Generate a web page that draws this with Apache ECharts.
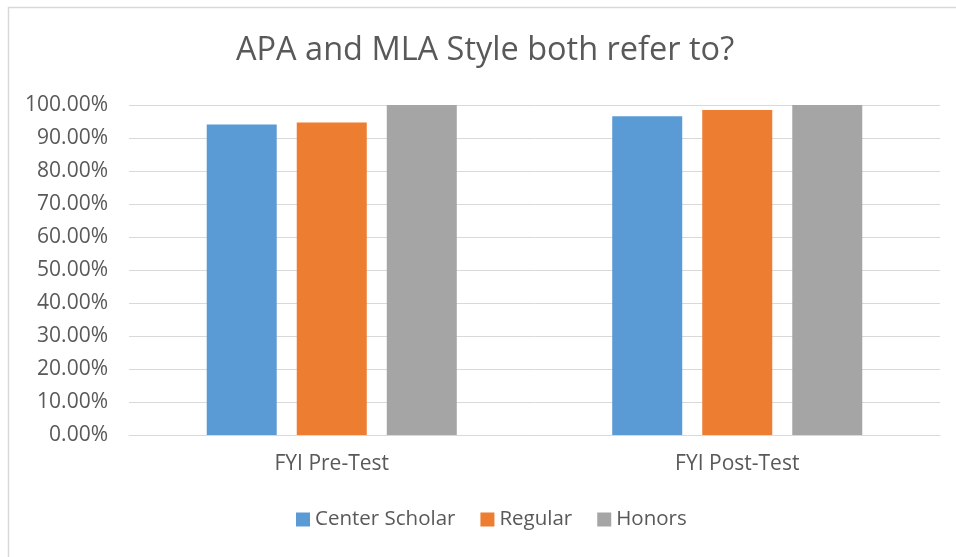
<!DOCTYPE html>
<html>
<head>
<meta charset="utf-8">
<script src="https://cdn.jsdelivr.net/npm/echarts@6/dist/echarts.min.js"></script>
<style>html,body{margin:0;padding:0;background:#fff;}#c{width:956px;height:557px;}</style>
</head>
<body>
<div id="c"></div>
<script>
const categories = ['FYI Pre-Test', 'FYI Post-Test'];
const seriesNames = ['Center Scholar', 'Regular', 'Honors'];
const centerScholar = [94.1, 96.6];
const regular = [94.7, 98.5];
const honors = [100, 100];
const yTicks = [0, 10, 20, 30, 40, 50, 60, 70, 80, 90, 100];

const colors = ['#5B9BD5', '#ED7D31', '#A5A5A5'];
const font = '"Open Sans", "Noto Sans", sans-serif';
const chart = echarts.init(document.getElementById('c'));
const values = [centerScholar, regular, honors];
chart.setOption({
  animation: false,
  color: colors,
  graphic: [{
    type: 'rect', left: 6, top: 5,
    shape: { width: 960, height: 551 },
    style: { fill: 'none', stroke: '#d9d9d9', lineWidth: 1.5 },
    silent: true
  }],
  title: {
    text: 'APA and MLA Style both refer to?',
    left: 231, top: 29,
    textStyle: { fontFamily: font, fontSize: 32.5, fontWeight: 'normal', color: '#595959' }
  },
  grid: { left: 129, right: 16, top: 105, bottom: 122 },
  legend: {
    data: seriesNames, bottom: 22, left: 291,
    itemWidth: 14, itemHeight: 14, itemGap: 25,
    icon: 'rect',
    textStyle: { fontFamily: font, fontSize: 20.5, color: '#595959' }
  },
  xAxis: {
    type: 'category', data: categories,
    axisLine: { lineStyle: { color: '#d9d9d9', width: 1 } },
    axisTick: { show: false },
    axisLabel: { fontFamily: font, fontSize: 21, color: '#595959', margin: 19 }
  },
  yAxis: {
    type: 'value', min: 0, max: 100, interval: 10,
    axisLine: { show: false }, axisTick: { show: false },
    axisLabel: {
      fontFamily: font, fontSize: 21, color: '#595959', margin: 21,
      formatter: v => yTicks.includes(v) ? v.toFixed(2) + '%' : ''
    },
    splitLine: { lineStyle: { color: '#d9d9d9', width: 1 } }
  },
  series: seriesNames.map((n, i) => ({
    name: n, type: 'bar', data: values[i],
    barWidth: 70, barGap: '28.6%'
  }))
});
</script>
</body>
</html>
